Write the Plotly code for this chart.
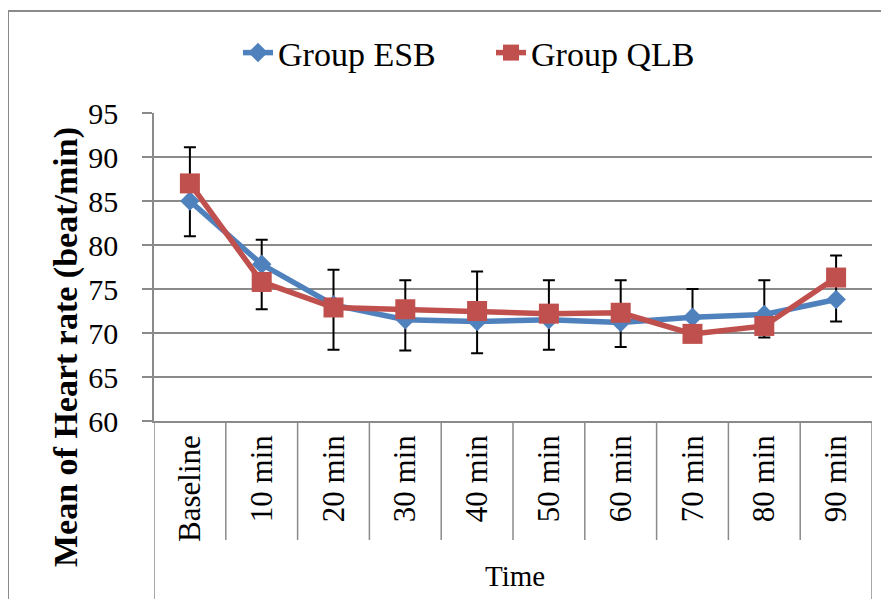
import plotly.graph_objects as go

categories = ["Baseline", "10 min", "20 min", "30 min", "40 min", "50 min",
              "60 min", "70 min", "80 min", "90 min"]
esb = [85.0, 77.8, 73.2, 71.5, 71.3, 71.5, 71.2, 71.8, 72.1, 73.8]
qlb = [87.0, 75.8, 72.9, 72.7, 72.5, 72.2, 72.3, 69.9, 70.8, 76.3]
err_top = [91.1, 80.6, 77.2, 76.0, 77.0, 76.0, 76.0, 75.0, 76.0, 78.8]
err_bottom = [81.0, 72.7, 68.1, 68.0, 67.7, 68.1, 68.4, 70.0, 69.5, 71.3]
y_ticks = [60, 65, 70, 75, 80, 85, 90, 95]

# page has an 8px body margin; figure is placed at (8, 8)
OFF = 8
W, H = 889 - OFF, 599 - OFF
L, R, T, B = 154, 872, 113, 421          # plot area in window pixels
pw, ph = R - L, B - T

def px_x(x):
    return (x - L) / pw

def px_y(y):
    return (B - y) / ph

FONT = "Liberation Serif, Times New Roman, serif"
GRID = "#8a8a8a"
BLUE = "#4F81BD"
RED = "#C0504D"

fig = go.Figure()
fig.add_trace(go.Scatter(
    x=categories, y=esb, name="Group ESB", mode="lines+markers",
    line=dict(color=BLUE, width=5.5),
    marker=dict(symbol="diamond", size=15, color=BLUE),
    error_y=dict(type="data", symmetric=False,
                 array=[t - v for t, v in zip(err_top, esb)],
                 arrayminus=[v - b for v, b in zip(esb, err_bottom)],
                 color="black", thickness=2, width=6),
    legend="legend",
))
fig.add_trace(go.Scatter(
    x=categories, y=qlb, name="Group QLB", mode="lines+markers",
    line=dict(color=RED, width=5.5),
    marker=dict(symbol="square", size=20, color=RED),
    legend="legend2",
))

shapes = []
n = len(categories)
for i in range(n + 1):
    end = -0.62 if i in (0, n) else -(540 - B) / ph
    shapes.append(dict(type="line", xref="x", yref="paper",
                       x0=i - 0.5, x1=i - 0.5, y0=0, y1=end,
                       line=dict(color=GRID, width=1.5)))
# outer chart border (top and left edges visible)
shapes.append(dict(type="line", xref="paper", yref="paper",
                   x0=px_x(8), x1=px_x(1000), y0=px_y(11), y1=px_y(11),
                   line=dict(color=GRID, width=2)))
shapes.append(dict(type="line", xref="paper", yref="paper",
                   x0=px_x(8), x1=px_x(8), y0=px_y(11), y1=px_y(700),
                   line=dict(color=GRID, width=2)))

leg_common = dict(orientation="h", yanchor="middle", xanchor="left",
                  y=px_y(53), font=dict(size=34, family=FONT),
                  bgcolor="rgba(0,0,0,0)")

fig.update_layout(
    width=W, height=H,
    margin=dict(l=L - OFF, r=W - (R - OFF), t=T - OFF, b=H - (B - OFF)),
    paper_bgcolor="white", plot_bgcolor="white",
    font=dict(family=FONT, color="black"),
    showlegend=True,
    legend=dict(x=px_x(238), **leg_common),
    legend2=dict(x=px_x(491), **leg_common),
    shapes=shapes,
    annotations=[
        dict(text="<b>Mean of Heart rate (beat/min)</b>", xref="paper", yref="paper",
             x=px_x(66), y=px_y(347), xanchor="center", yanchor="middle",
             textangle=-90, showarrow=False, font=dict(size=34, family=FONT)),
        dict(text="Time", xref="paper", yref="paper",
             x=px_x(515), y=px_y(576), xanchor="center", yanchor="middle",
             showarrow=False, font=dict(size=29, family=FONT)),
    ],
)
fig.update_xaxes(type="category", range=[-0.5, n - 0.5], showgrid=False,
                 showline=True, linecolor=GRID, linewidth=1.5,
                 ticks="", tickangle=-90, tickfont=dict(size=31, family=FONT),
                 ticklabelstandoff=0)
fig.update_yaxes(range=[60, 95], tickvals=y_ticks, showgrid=True,
                 gridcolor=GRID, gridwidth=1.5, zeroline=False,
                 showline=True, linecolor=GRID, linewidth=1.5,
                 ticks="outside", ticklen=10, tickcolor=GRID, tickwidth=1.5,
                 tickfont=dict(size=30, family=FONT), ticklabelstandoff=18)

fig.write_html("out.html")
